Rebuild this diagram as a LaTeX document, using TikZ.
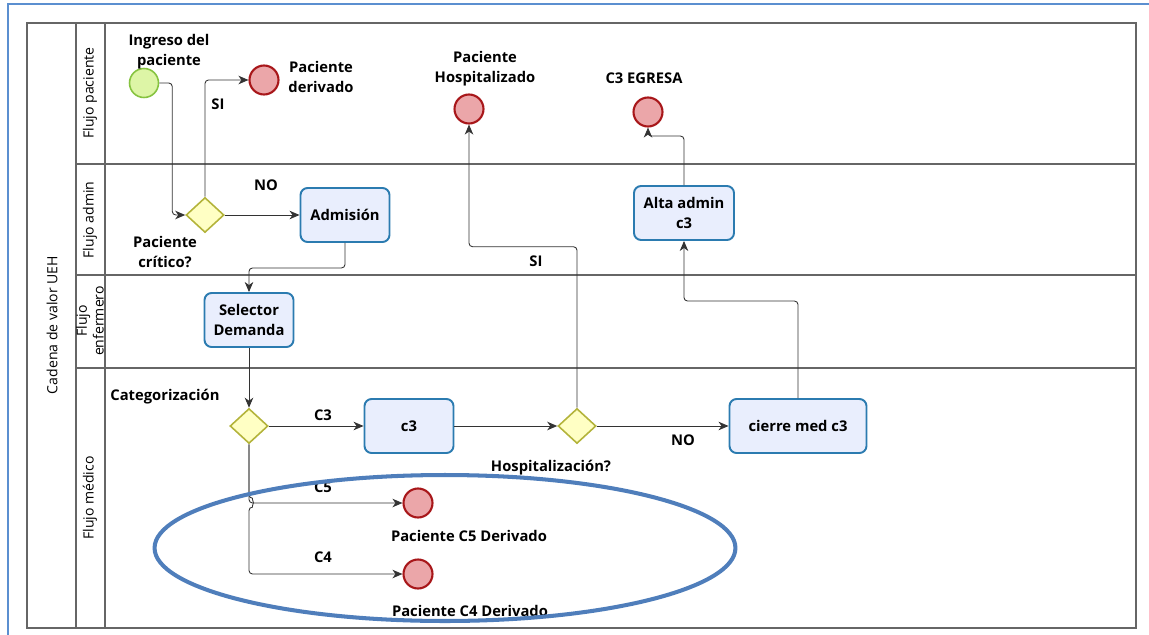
\documentclass[tikz,border=0pt]{standalone}
\usepackage{fontspec}
\setmainfont{Open Sans}
\usepackage{xcolor}
\usepackage{tikz}
\usetikzlibrary{positioning,arrows.meta,shapes.geometric}

\definecolor{taskline}{HTML}{2B7BB0}
\definecolor{taskfill}{HTML}{E9EEFD}
\definecolor{gateline}{HTML}{B3B33A}
\definecolor{gatefill}{HTML}{FFFFC4}
\definecolor{endline}{HTML}{A8171A}
\definecolor{endfill}{HTML}{EBA6A9}
\definecolor{startline}{HTML}{86C340}
\definecolor{startfill}{HTML}{DDF5A6}
\definecolor{laneline}{HTML}{666666}
\definecolor{ringblue}{HTML}{4F7EBB}
\definecolor{frameblue}{HTML}{5B8FD0}

\begin{document}
\begin{tikzpicture}[
    x=0.02cm, y=-0.02cm,
    lbl/.style    ={font=\fontsize{8.4}{11.2}\selectfont\bfseries, align=center, inner sep=1pt},
    lanelbl/.style={font=\fontsize{8}{9.5}\selectfont, rotate=90, align=center, inner sep=1pt},
    task/.style   ={draw=taskline, fill=taskfill, line width=1.1pt, rounded corners=4pt,
                    minimum height=1.08cm, lbl},
    gate/.style   ={diamond, draw=gateline, fill=gatefill, line width=0.9pt,
                    minimum width=0.76cm, minimum height=0.7cm, inner sep=0pt},
    evend/.style  ={circle, draw=endline, fill=endfill, line width=1.2pt, minimum size=0.58cm, inner sep=0pt},
    evstart/.style={circle, draw=startline, fill=startfill, line width=0.9pt, minimum size=0.58cm, inner sep=0pt},
    arr/.style    ={-{Stealth[length=2mm, width=1.7mm, inset=0.6mm]}, draw=black!80, line width=0.5pt,
                    rounded corners=2pt},
    lane/.style   ={draw=laneline, line width=0.6pt}
  ]
    \useasboundingbox (0,0) rectangle (1149,635);

    % outer frame
    \draw[frameblue, line width=1pt] (8,650) -- (8,4) -- (1160,4);

    % pool and lanes
    \draw[lane] (27,23) rectangle (1136,628);
    \draw[lane] (76,23) -- (76,628);
    \draw[lane] (105,23) -- (105,628);
    \foreach \y in {164,275,368} \draw[lane] (76,\y) -- (1136,\y);

    \node[lanelbl] (pool) at (52,325) {Cadena de valor UEH};
    \node[lanelbl] (lp) at (90,93) {Flujo paciente};
    \node[lanelbl] (la) at (90,220) {Flujo admin};
    \node[lanelbl] (le) at (90,321) {Flujo\\enfermero};
    \node[lanelbl] (lm) at (90,498) {Flujo médico};

    % events
    \node[evstart] (ini) at (144,83) {};
    \node[evend] (der) at (264,80) {};
    \node[evend] (hsp) at (469,109) {};
    \node[evend] (egr) at (648,112) {};
    \node[evend] (c5) at (418,503) {};
    \node[evend] (c4) at (418,574) {};

    % gateways
    \node[gate] (crit) at (205,215) {};
    \node[gate] (cat) at (249,426) {};
    \node[gate] (hosp) at (577,426) {};

    % tasks
    \node[task, minimum width=1.78cm] (adm) at (345,215) {Admisión};
    \node[task, minimum width=1.78cm] (sel) at (249,320) {Selector\\Demanda};
    \node[task, minimum width=1.78cm] (c3) at (409,426) {c3};
    \node[task, minimum width=2.74cm] (cierre) at (798,426) {cierre med c3};
    \node[task, minimum width=2.0cm] (alta) at (684,213) {Alta admin\\c3};

    % names of events and gateways
    \node[lbl] (tIni) at (169,52) {Ingreso del\\paciente};
    \node[lbl] (tDer) at (321,77) {Paciente\\derivado};
    \node[lbl] (tCrit) at (165,252) {Paciente\\crítico?};
    \node[lbl] (tHsp) at (485,69) {Paciente\\Hospitalizado};
    \node[lbl] (tEgr) at (644,78) {C3 EGRESA};
    \node[lbl] (tCat) at (165,397) {Categorización};
    \node[lbl] (tHosp) at (551,468) {Hospitalización?};
    \node[lbl] (tC5) at (469,536) {Paciente C5 Derivado};
    \node[lbl] (tC4) at (470,611) {Paciente C4 Derivado};

    % flow labels
    \foreach \n/\p/\t in {si1/{218,104}/SI, no1/{266,185}/NO, si2/{536,261}/SI,
                          no2/{683,440}/NO, fc3/{323,415}/C3, fc5/{323,487}/C5, fc4/{323,557}/C4}
      \node[lbl] (\n) at (\p) {\t};

    % sequence flows
    \draw[arr] (ini.east) -- ++(13,0) |- (crit.west);
    \draw[arr] (crit.north) |- (der.west);
    \draw[arr] (crit.east) -- (adm.west);
    \draw[arr] (adm.south) -- ++(0,25) -| (sel.north);
    \draw[arr] (sel.south) -- (cat.north);
    \draw[arr] (cat.east) -- (c3.west);
    \draw[arr] (c3.east) -- (hosp.west);
    \draw[arr] (hosp.east) -- (cierre.west);
    \draw[arr] (hosp.north) -- ++(0,-161) -| (hsp.south);
    \draw[arr] (cierre.north) -- ++(0,-97) -| (alta.south);
    \draw[arr] (alta.north) -- ++(0,-49) -| (egr.south);
    \draw[arr] (cat.south) |- (c5.west);
    \draw[arr] (cat.south) -- ++(0,54) arc[start angle=90, end angle=-90, radius=2.5pt] |- (c4.west);

    % highlight round the derived patients
    \draw[ringblue, line width=2.3pt] (445,548) ellipse [x radius=5.81cm, y radius=1.46cm];
  \end{tikzpicture}
\end{document}
